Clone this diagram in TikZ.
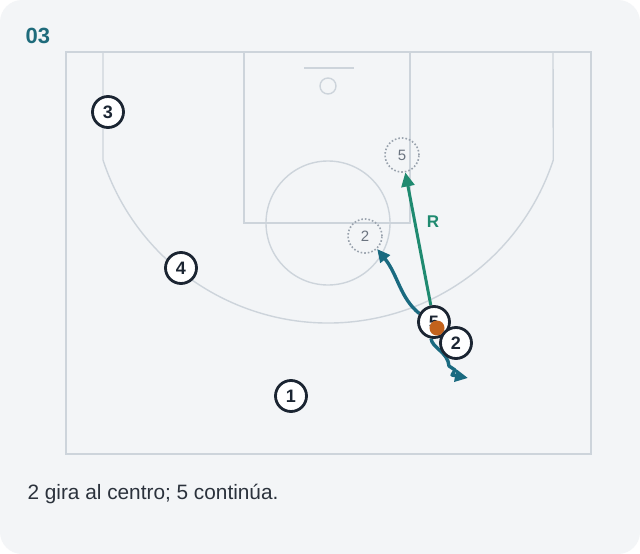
\documentclass[tikz,border=0pt]{standalone}
\usepackage{fontspec}
\setmainfont{Liberation Sans}
\usetikzlibrary{arrows.meta,backgrounds}
\definecolor{bgcol}{HTML}{F3F5F7}
\definecolor{linecol}{HTML}{CDD4DB}
\definecolor{ink}{HTML}{1B2532}
\definecolor{titlecol}{HTML}{1E6B7B}
\definecolor{greencol}{HTML}{1F8A70}
\definecolor{tealcol}{HTML}{1A6A80}
\definecolor{ballcol}{HTML}{C2621C}
\definecolor{ghostcol}{HTML}{9AA3AE}
\definecolor{ghosttext}{HTML}{6B7480}
\definecolor{captcol}{HTML}{2B323C}

\begin{document}
\begin{tikzpicture}[x=1pt,y=-1pt,
  player/.style={circle,draw=ink,fill=white,line width=2.8pt,minimum size=31pt,inner sep=0pt,
    font=\bfseries\fontsize{18}{18}\selectfont,text=ink},
  ghost/.style={circle,draw=ghostcol,dotted,line width=1.6pt,minimum size=34pt,inner sep=0pt,
    font=\fontsize{15}{15}\selectfont,text=ghosttext},
  court/.style={draw=linecol,line width=1.4pt},
  runpath/.style={draw=greencol,line width=3pt,-{Triangle[length=14pt,width=13pt]}},
  cutpath/.style={draw=tealcol,line width=3.4pt,line join=round,-{Triangle[length=13pt,width=12pt]}}]
\useasboundingbox (0,0) rectangle (640,554);

\node[anchor=west,font=\bfseries\fontsize{22}{22}\selectfont,text=titlecol] (title) at (22,36) {03};
\node[anchor=west,font=\fontsize{20.8}{20.8}\selectfont,text=captcol] (caption) at (24,494) {2 gira al centro; 5 continúa.};

% players
\node[player] (p3) at (108,112) {3};
\node[player] (p4) at (181,268) {4};
\node[player] (p1) at (291,396) {1};
\node[ghost] (g5) at (402,155) {5};
\node[ghost] (g2) at (365,236) {2};
\node[player] (p5) at (434,322) {5};
\node[circle,fill=ballcol,minimum size=15pt,inner sep=0pt] (ball) at (437,328) {};
\node[player] (p2) at (456,343) {2};
\node[font=\bfseries\fontsize{17}{17}\selectfont,text=greencol] (lblR) at (433,222) {R};
\coordinate (dribEnd) at (468,378);

\begin{scope}[on background layer]
\fill[white] (0,0) rectangle (640,554);
\fill[bgcol,rounded corners=22pt] (0,0) rectangle (640,554);

% court
\draw[court] (66,52) rectangle (591,454);
\draw[court] (244,52) rectangle (410,223);
\draw[court] (328,223) circle[radius=62];
\draw[court] (304,68) -- (354,68);
\draw[court] (328,86) circle[radius=8];
\draw[court] (103,52) -- (103,160) arc[start angle=161.8,end angle=18.2,radius=237] -- (553,52);

% moves
\draw[runpath] (p5) -- (g5);
\draw[cutpath] (p5.150) .. controls (400,298) and (398,275) .. (g2.-47);
\draw[cutpath] (p5.-100) .. controls (432,348) and (448,352) .. (449,366) -- (455,370) -- (452,375) -- (dribEnd);
\end{scope}
\end{tikzpicture}
\end{document}
